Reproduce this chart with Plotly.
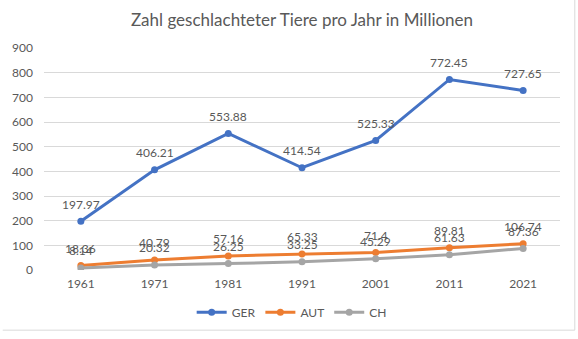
import plotly.graph_objects as go

years = ["1961", "1971", "1981", "1991", "2001", "2011", "2021"]
ger = [197.97, 406.21, 553.88, 414.54, 525.33, 772.45, 727.65]
aut = [18.36, 40.79, 57.16, 65.33, 71.4, 89.81, 106.74]
ch = [8.14, 20.32, 26.25, 33.25, 45.29, 61.63, 87.36]

series = [("GER", ger, "#4472C4"), ("AUT", aut, "#ED7D31"), ("CH", ch, "#A5A5A5")]
FONT = "Lato"
TXT = "#595959"

fig = go.Figure()
for name, vals, col in series:
    fig.add_trace(go.Scatter(x=years, y=vals, name=name, mode="lines+markers",
                             line=dict(color=col, width=3),
                             marker=dict(color=col, size=7)))

annotations = []
for name, vals, col in series:
    for i, v in enumerate(vals):
        annotations.append(dict(x=i, y=v, xref="x", yref="y", text=f"{v:g}",
                                showarrow=False, yshift=17,
                                font=dict(family=FONT, size=12, color=TXT)))

fig.update_layout(
    width=578, height=339,
    margin=dict(l=37, r=18, t=48, b=66),
    paper_bgcolor="white", plot_bgcolor="white",
    title=dict(text="Zahl geschlachteter Tiere pro Jahr in Millionen",
               x=0.5, xref="paper", xanchor="center", y=0.94, yanchor="middle",
               font=dict(family=FONT, size=17, color=TXT)),
    font=dict(family=FONT, size=12, color=TXT),
    xaxis=dict(type="category", range=[-0.5, 6.5], showgrid=False, showline=False,
               ticks="", tickfont=dict(size=12, color=TXT), zeroline=False,
               ticklabelstandoff=5),
    yaxis=dict(range=[0, 900], dtick=100, showgrid=True, gridcolor="#D9D9D9",
               gridwidth=1, zeroline=False, showline=False, ticks="",
               tickfont=dict(size=12, color=TXT), ticklabelstandoff=10),
    legend=dict(orientation="h", x=0.48, xanchor="center", y=-0.19, yanchor="middle",
                font=dict(size=12, color=TXT), itemwidth=30, traceorder="normal"),
    annotations=annotations,
    showlegend=True,
)
# chart border (right & bottom edges)
fig.add_shape(type="line", xref="paper", yref="paper", x0=(575-37)/523, x1=(575-37)/523,
              y0=-0.271, y1=1.22, line=dict(color="#D9D9D9", width=1))
fig.add_shape(type="line", xref="paper", yref="paper", x0=-0.08, x1=(575-37)/523,
              y0=-0.271, y1=-0.271, line=dict(color="#D9D9D9", width=1))

fig.write_html("out.html")
